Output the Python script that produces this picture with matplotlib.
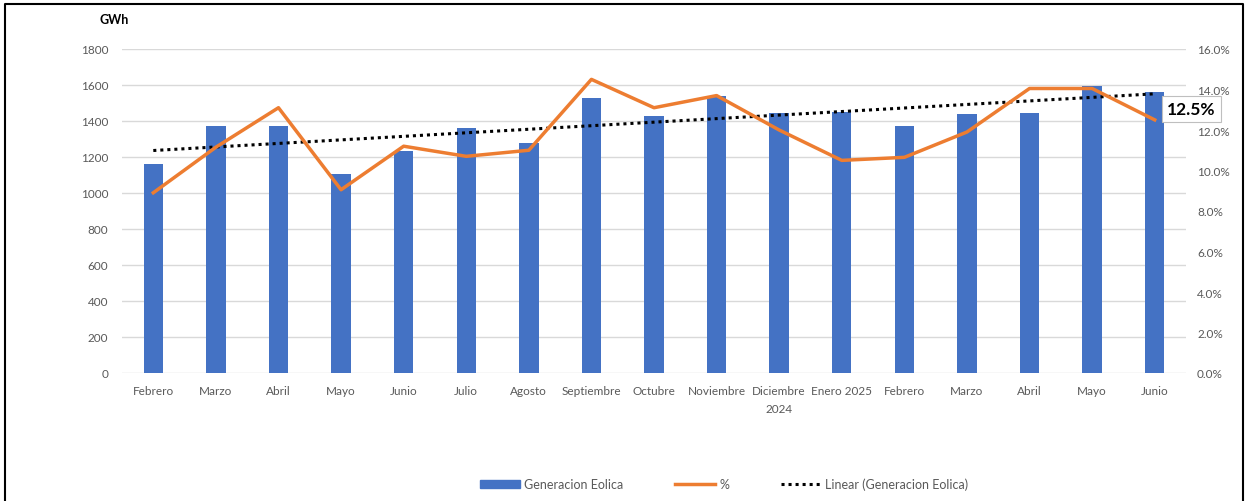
import numpy as np
import matplotlib
matplotlib.use("Agg")
import matplotlib.pyplot as plt
from matplotlib.ticker import FuncFormatter, MultipleLocator
from matplotlib.lines import Line2D
from matplotlib.patches import Patch

plt.rcParams['font.family'] = ['Lato', 'DejaVu Sans']

# data
months = ['Febrero', 'Marzo', 'Abril', 'Mayo', 'Junio', 'Julio', 'Agosto',
          'Septiembre', 'Octubre', 'Noviembre', 'Diciembre\n2024', 'Enero 2025',
          'Febrero', 'Marzo', 'Abril', 'Mayo', 'Junio']
generacion = [1161, 1370, 1374, 1106, 1235, 1359, 1278, 1530, 1428, 1541,
              1444, 1452, 1374, 1439, 1444, 1594, 1561]
porcentaje = [8.9, 11.15, 13.1, 9.05, 11.2, 10.7, 11.0, 14.5, 13.1, 13.7,
              12.0, 10.5, 10.65, 11.9, 14.05, 14.05, 12.5]

BLUE = '#4472C4'
ORANGE = '#ED7D31'
GRAY = '#595959'

x = np.arange(len(months))

fig = plt.figure(figsize=(12.47, 5.02), dpi=100)
ax = fig.add_axes([122 / 1247, 1 - 374 / 502, 1064 / 1247, 324 / 502])
ax2 = ax.twinx()

ax.bar(x, generacion, width=0.31, color=BLUE, zorder=2)

# linear trend of generation
m, b = np.polyfit(x, generacion, 1)
ax.plot(x, m * x + b, color='black', linestyle=(0, (1, 1.3)), linewidth=2.2, zorder=4)

ax2.plot(x, porcentaje, color=ORANGE, linewidth=2.5, zorder=3)

ax.set_xlim(-0.5, len(months) - 0.5)
ax.set_ylim(0, 1800)
ax2.set_ylim(0, 16)
ax.yaxis.set_major_locator(MultipleLocator(200))
ax2.yaxis.set_major_locator(MultipleLocator(2))
ax2.yaxis.set_major_formatter(FuncFormatter(lambda v, _: f'{v:.1f}%'))

ax.set_xticks(x)
ax.set_xticklabels(months, linespacing=1.7, va='top')
ax.grid(axis='y', color='#d9d9d9', linewidth=1, zorder=0)
ax.set_axisbelow(True)

for a in (ax, ax2):
    for s in a.spines.values():
        s.set_visible(False)
    a.tick_params(length=0, labelsize=8.5, labelcolor=GRAY)
ax.tick_params(axis='x', pad=9)
ax.tick_params(axis='y', pad=10)
ax2.tick_params(axis='y', pad=8)

# last point label
ax2.annotate(f'{porcentaje[-1]:.1f}%', xy=(x[-1], porcentaje[-1]), xytext=(9, 8),
             textcoords='offset points', fontsize=12.5, fontweight='bold', color='black',
             va='center', ha='left',
             bbox=dict(boxstyle='square,pad=0.3', fc='white', ec='#bfbfbf', lw=0.8))

fig.text(100 / 1247, 1 - 20 / 502, 'GWh', fontsize=9, fontweight='bold', va='center')

handles = [Patch(color=BLUE),
           Line2D([0], [0], color=ORANGE, linewidth=2.5),
           Line2D([0], [0], color='black', linestyle=(0, (1, 1.3)), linewidth=2.2)]
labels = ['Generacion Eolica', '%', 'Linear (Generacion Eolica)']
fig.legend(handles, labels, loc='center', bbox_to_anchor=(724 / 1247, 1 - 485 / 502),
           ncol=3, frameon=False, fontsize=9, labelcolor=GRAY,
           handlelength=3.2, handleheight=0.6, columnspacing=4.2, handletextpad=0.3)

# frame around the chart (open at the bottom)
fig.add_artist(Line2D([5 / 1247, 5 / 1247, 1243 / 1247, 1243 / 1247],
                      [0, 1 - 5 / 502, 1 - 5 / 502, 0],
                      transform=fig.transFigure, color='black', linewidth=1.5))

fig.savefig('out.png', dpi=100)
